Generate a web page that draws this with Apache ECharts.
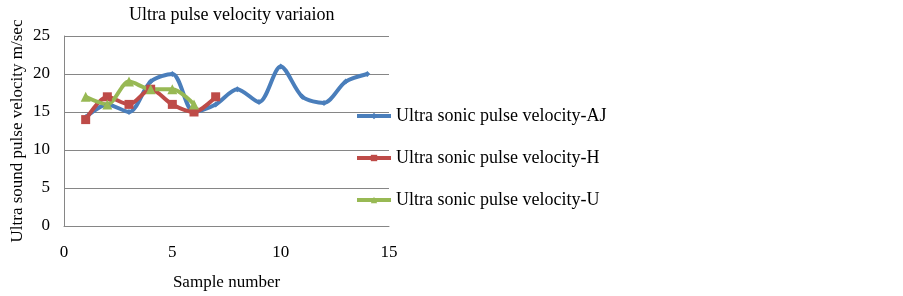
<!DOCTYPE html>
<html>
<head>
<meta charset="utf-8">
<script src="https://cdn.jsdelivr.net/npm/echarts@6/dist/echarts.min.js"></script>
<style>
    html, body { margin: 0; padding: 0; background: #fff; }
    #chart { width: 903px; height: 296px; }
</style>
</head>
<body>
<div id="chart"></div>
<script>
    // sample numbers and velocities
    var samplesAJ = [1, 2, 3, 4, 5, 6, 7, 8, 9, 10, 11, 12, 13, 14];
    var velocityAJ = [14.3, 16, 15, 19, 20, 15, 16, 18, 16.3, 21, 17, 16.2, 19, 20];
    var samplesH = [1, 2, 3, 4, 5, 6, 7];
    var velocityH = [14, 17, 16, 18, 16, 15, 17];
    var samplesU = [1, 2, 3, 4, 5, 6];
    var velocityU = [17, 16, 19, 18, 18, 16];
    var seriesNames = ["Ultra sonic pulse velocity-AJ", "Ultra sonic pulse velocity-H", "Ultra sonic pulse velocity-U"];

    function pairs(xs, ys) {
        return xs.map(function (x, i) { return [x, ys[i]]; });
    }

    var font = "Liberation Serif";
    var chartObj = echarts.init(document.getElementById("chart"));

    var option = {
        animation: false,
        title: {
            text: "Ultra pulse velocity variaion",
            left: 124,
            top: 1,
            textStyle: { fontFamily: font, fontSize: 18, fontWeight: "normal", color: "#000" }
        },
        grid: { left: 64, right: 514, top: 36, bottom: 68 },
        legend: {
            orient: "vertical",
            left: 350,
            top: 102,
            itemWidth: 34,
            itemHeight: 8,
            itemGap: 24,
            lineStyle: { width: 4 },
            textStyle: { fontFamily: font, fontSize: 18, color: "#000" },
            data: seriesNames
        },
        xAxis: {
            type: "value",
            min: 0,
            max: 15,
            interval: 5,
            name: "Sample number",
            nameLocation: "middle",
            nameGap: 48,
            nameTextStyle: { fontFamily: font, fontSize: 17, color: "#000" },
            axisLine: { lineStyle: { color: "#868686" } },
            axisTick: { show: false },
            axisLabel: { fontFamily: font, fontSize: 17, color: "#000", margin: 18 },
            splitLine: { show: false }
        },
        yAxis: {
            type: "value",
            min: 0,
            max: 25,
            interval: 5,
            name: "Ultra sound pulse velocity m/sec",
            nameLocation: "middle",
            nameGap: 38,
            nameRotate: 90,
            nameTextStyle: { fontFamily: font, fontSize: 17, color: "#000" },
            axisLine: { show: true, lineStyle: { color: "#868686" } },
            axisTick: { show: false },
            axisLabel: { fontFamily: font, fontSize: 17, color: "#000", margin: 14 },
            splitLine: { lineStyle: { color: "#868686" } }
        },
        series: [
            {
                name: seriesNames[0],
                type: "line",
                smooth: 0.3,
                symbol: "diamond",
                symbolSize: 6,
                color: "#4A7EBB",
                lineStyle: { width: 4 },
                data: pairs(samplesAJ, velocityAJ)
            },
            {
                name: seriesNames[1],
                type: "line",
                smooth: 0.3,
                symbol: "rect",
                symbolSize: 9,
                color: "#BE4B48",
                lineStyle: { width: 4 },
                data: pairs(samplesH, velocityH)
            },
            {
                name: seriesNames[2],
                type: "line",
                smooth: 0.3,
                symbol: "triangle",
                symbolSize: 10,
                color: "#98B954",
                lineStyle: { width: 4 },
                data: pairs(samplesU, velocityU)
            }
        ]
    };

    chartObj.setOption(option);
</script>
</body>
</html>
